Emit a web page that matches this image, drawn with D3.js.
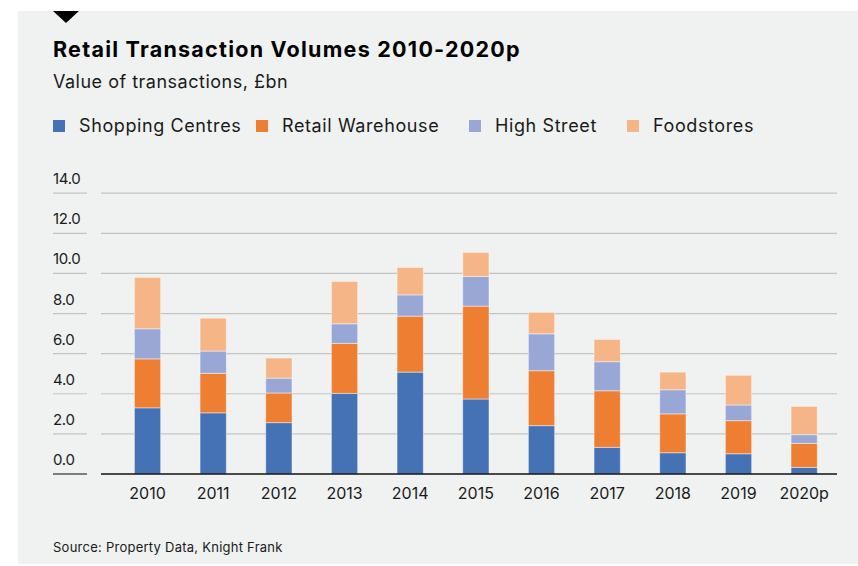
<!DOCTYPE html>
<html>
<head>
<meta charset="utf-8">
<script src="https://cdn.jsdelivr.net/npm/d3@7"></script>
<style>
  html, body { margin: 0; padding: 0; background: #ffffff; }
  svg { display: block; font-family: Inter, "Noto Sans", sans-serif; }
</style>
</head>
<body>
<svg id="chart" width="858" height="566"></svg>
<script>
// Retail transaction volumes by sector, £bn
const years = ["2010", "2011", "2012", "2013", "2014", "2015", "2016", "2017", "2018", "2019", "2020p"];
const shoppingCentres = [3.30, 3.05, 2.56, 4.02, 5.08, 3.74, 2.41, 1.33, 1.06, 1.01, 0.33];
const retailWarehouse = [2.44, 1.97, 1.48, 2.49, 2.79, 4.63, 2.74, 2.82, 1.94, 1.65, 1.20];
const highStreet      = [1.50, 1.11, 0.74, 0.98, 1.06, 1.48, 1.84, 1.45, 1.20, 0.78, 0.43];
const foodstores      = [2.56, 1.64, 1.00, 2.11, 1.37, 1.20, 1.07, 1.11, 0.88, 1.48, 1.41];
const seriesNames = ["Shopping Centres", "Retail Warehouse", "High Street", "Foodstores"];
const seriesColors = ["#4571b5", "#ed7e32", "#98a7d6", "#f5b587"];
const yTicks = [0, 2, 4, 6, 8, 10, 12, 14];

const svg = d3.select("#chart");

// Panel background
svg.append("rect").attr("x", 18).attr("y", 11).attr("width", 840).attr("height", 553)
  .attr("fill", "#eff2f1");

// Marker triangle
svg.append("path").attr("d", "M53,11 L79,11 L66,23 Z").attr("fill", "#000");

// Title block
svg.append("text").attr("x", 53).attr("y", 57)
  .attr("font-size", 21.5).attr("font-weight", 700).attr("letter-spacing", 1.25).attr("fill", "#000")
  .text("Retail Transaction Volumes 2010-2020p");
svg.append("text").attr("x", 53).attr("y", 88)
  .attr("font-size", 18).attr("letter-spacing", 0.5).attr("fill", "#1a1a1a")
  .text("Value of transactions, £bn");

// Legend
const legendX = [53, 256, 469, 627];
const legend = svg.append("g");
seriesNames.forEach((name, i) => {
  legend.append("rect").attr("x", legendX[i]).attr("y", 120).attr("width", 12).attr("height", 12)
    .attr("fill", seriesColors[i]);
  legend.append("text").attr("x", legendX[i] + 26).attr("y", 132)
    .attr("font-size", 18).attr("letter-spacing", 0.6).attr("fill", "#1a1a1a").text(name);
});

// Scales
const x = d3.scaleBand().domain(years).range([114.7, 837]).paddingInner(0.6).paddingOuter(0.3);
const y = d3.scaleLinear().domain([0, 14]).range([474, 193.2]);

// Gridlines
svg.append("g").selectAll("line").data(yTicks.filter(d => d > 0)).join("line")
  .attr("x1", 101).attr("x2", 837).attr("y1", d => y(d)).attr("y2", d => y(d))
  .attr("stroke", "#c4c4c4").attr("stroke-width", 1.2);

// Y axis labels with short rules beneath
const yAxis = svg.append("g");
yAxis.selectAll("line").data(yTicks).join("line")
  .attr("x1", 53).attr("x2", 87).attr("y1", d => y(d)).attr("y2", d => y(d))
  .attr("stroke", d => d === 0 ? "#555" : "#c4c4c4").attr("stroke-width", d => d === 0 ? 1.6 : 1.2);
yAxis.selectAll("text").data(yTicks).join("text")
  .attr("x", 53).attr("y", d => y(d) - 9)
  .attr("font-size", 15).attr("letter-spacing", -0.3).attr("fill", "#1a1a1a")
  .text(d => d3.format(".1f")(d));

// Stacked bars
const rows = years.map((yr, i) => ({
  year: yr,
  "Shopping Centres": shoppingCentres[i],
  "Retail Warehouse": retailWarehouse[i],
  "High Street": highStreet[i],
  "Foodstores": foodstores[i]
}));
const stacked = d3.stack().keys(seriesNames)(rows);
svg.append("g").selectAll("g").data(stacked).join("g")
  .attr("fill", (d, i) => seriesColors[i])
  .selectAll("rect").data(d => d).join("rect")
  .attr("x", d => x(d.data.year))
  .attr("width", x.bandwidth())
  .attr("y", d => y(d[1]))
  .attr("height", d => y(d[0]) - y(d[1]))
  .attr("stroke", "rgba(255,255,255,0.45)").attr("stroke-width", 1);

// Baseline
svg.append("line").attr("x1", 101).attr("x2", 837).attr("y1", y(0)).attr("y2", y(0))
  .attr("stroke", "#111").attr("stroke-width", 1.5);

// X axis labels
svg.append("g").selectAll("text").data(years).join("text")
  .attr("x", d => x(d) + x.bandwidth() / 2).attr("y", 499)
  .attr("text-anchor", "middle").attr("font-size", 16).attr("fill", "#1a1a1a")
  .text(d => d);

// Source note
svg.append("text").attr("x", 53).attr("y", 552)
  .attr("font-size", 13).attr("letter-spacing", 0.25).attr("fill", "#1a1a1a")
  .text("Source: Property Data, Knight Frank");
</script>
</body>
</html>
